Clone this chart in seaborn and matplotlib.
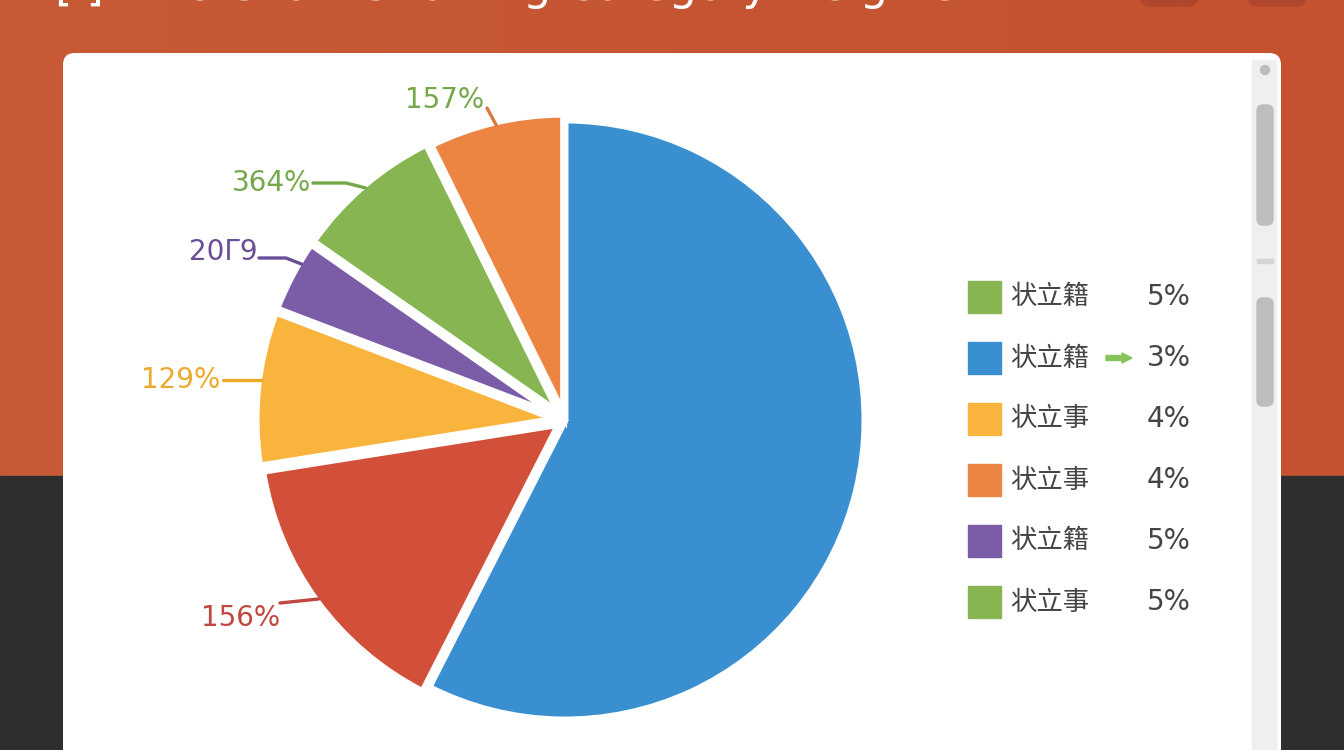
#!/usr/bin/env python3
"""
Pie chart card: category shares with leader-line labels and a side legend
"""

import numpy as np
import seaborn as sns
import matplotlib.pyplot as plt
from matplotlib.colors import LinearSegmentedColormap
from matplotlib.patches import FancyBboxPatch, Rectangle, FancyArrow

# slices, clockwise from 12 o'clock
shares = [57.5, 15.0, 8.3, 3.9, 8.0, 7.3]
slice_colors = ['#3A8FD0', '#D2503A', '#F8B43C', '#7A5DA6', '#86B552', '#EC8442']
slice_labels = ['', '156%', '129%', '20Γ9', '364%', '157%']
label_colors = ['#3A8FD0', '#C0473E', '#EBAA2C', '#6A4E98', '#74A84A', '#74A84A']
line_colors = ['#3A8FD0', '#C0473E', '#EBAA2C', '#6A4E98', '#74A84A', '#D9793A']

# legend rows
legend_colors = ['#86B552', '#3A8FD0', '#F8B43C', '#EC8442', '#7A5DA6', '#86B552']
legend_names = ['状立籍', '状立籍', '状立事', '状立事', '状立籍', '状立事']
legend_pcts = ['5%', '3%', '4%', '4%', '5%', '5%']

W, H = 1344, 750
sns.set_theme(style="white")
plt.rcParams['font.family'] = ['Noto Sans CJK SC', 'DejaVu Sans']

fig = plt.figure(figsize=(W / 100, H / 100), dpi=100)

# ---- background in pixel coordinates
bg = fig.add_axes([0, 0, 1, 1])
bg.set_xlim(0, W)
bg.set_ylim(H, 0)
bg.axis('off')

grad = np.linspace(0, 1, 256)[None, :]
bg.imshow(grad, extent=(0, W, 476, 0), aspect='auto', zorder=0,
          cmap=LinearSegmentedColormap.from_list('bgc', ['#C85A36', '#C4522F']))
bg.add_patch(Rectangle((0, 476), W, H - 476, color='#2E2E2E', zorder=0))

# title bar (cut off at the top edge, as in the screenshot)
bg.text(55, 9, '[ ]   Pie Chart Showing Category Insights', color='white',
        fontsize=32, va='bottom', family='DejaVu Sans', zorder=1)
for bx in [1140, 1248]:
    bg.add_patch(FancyBboxPatch((bx, -30), 58, 36, boxstyle='round,pad=0,rounding_size=10',
                                color='#B0462B', zorder=1))

# white card
bg.add_patch(FancyBboxPatch((63, 53), 1218, 760, boxstyle='round,pad=0,rounding_size=12',
                            facecolor='white', edgecolor='none', zorder=2))
# scrollbar
bg.add_patch(Rectangle((1252, 60), 24, 700, color='#EFEFEF', zorder=3))
bg.add_patch(plt.Circle((1265, 70), 4.5, color='#BDBDBD', zorder=4))
bg.add_patch(FancyBboxPatch((1257, 105), 16, 120, boxstyle='round,pad=0,rounding_size=6',
                            color='#BDBDBD', zorder=4))
bg.add_patch(Rectangle((1257, 259), 16, 4, color='#D4D4D4', zorder=4))
bg.add_patch(FancyBboxPatch((1257, 298), 16, 108, boxstyle='round,pad=0,rounding_size=6',
                            color='#BDBDBD', zorder=4))

# legend
row_y0, row_gap = 297, 61
for i, (c, name, pct) in enumerate(zip(legend_colors, legend_names, legend_pcts)):
    y = row_y0 + i * row_gap
    bg.add_patch(Rectangle((968, y - 16), 33, 32, color=c, zorder=5))
    bg.text(1010, y, name, fontsize=19, color='#444444', va='center', ha='left', zorder=5)
    bg.text(1191, y, pct, fontsize=20, color='#444444', va='center', ha='right',
            family='DejaVu Sans', zorder=5)
bg.add_patch(FancyArrow(1106, row_y0 + row_gap, 26, 0, width=5, head_width=10,
                        head_length=10, length_includes_head=True,
                        color='#86C35A', zorder=5))

# ---- pie
cx, cy, r = 565, 420, 300
pie_ax = fig.add_axes([(cx - r) / W, 1 - (cy + r) / H, 2 * r / W, 2 * r / H])
wedges, _ = pie_ax.pie(
    shares,
    colors=slice_colors,
    startangle=90,
    counterclock=False,
    explode=[0, 0.025, 0.03, 0.03, 0.03, 0.02],
    wedgeprops=dict(edgecolor='white', linewidth=5),
)
pie_ax.set_xlim(-1, 1)
pie_ax.set_ylim(-1, 1)
pie_ax.set_aspect('equal')

# label text positions, leader-line start/elbow, and where along the arc the line lands
text_pos = [None, (-1.08, -0.66), (-1.28, 0.133), (-1.14, 0.56), (-0.98, 0.79), (-0.40, 1.067)]
line_start = [None, (-0.95, -0.61), (-1.14, 0.133), (-1.02, 0.54), (-0.84, 0.79), (-0.26, 1.04)]
elbow = [None, None, None, (-0.93, 0.54), (-0.73, 0.79), None]
arc_frac = [None, 0.5, None, 0.3, 0.5, 0.5]

for w, lab, tc, lc, tp, st, el, fr in zip(wedges, slice_labels, label_colors, line_colors,
                                          text_pos, line_start, elbow, arc_frac):
    if not lab:
        continue
    ox, oy = w.center
    rr = 0.99 * w.r
    if fr is None:
        # horizontal leader: meet the arc at the text's height
        ey = st[1]
        ex = ox - np.sqrt(rr ** 2 - (ey - oy) ** 2)
    else:
        ang = np.deg2rad(w.theta1 + fr * (w.theta2 - w.theta1))
        ex, ey = ox + rr * np.cos(ang), oy + rr * np.sin(ang)
    pie_ax.text(tp[0], tp[1], lab, color=tc, fontsize=20, ha='center', va='center',
                family='DejaVu Sans', clip_on=False)
    xs, ys = [st[0]], [st[1]]
    if el is not None:
        xs.append(el[0])
        ys.append(el[1])
    xs.append(ex)
    ys.append(ey)
    pie_ax.plot(xs, ys, color=lc, linewidth=2.4, clip_on=False, solid_capstyle='round')

fig.savefig('out.png', dpi=100)
